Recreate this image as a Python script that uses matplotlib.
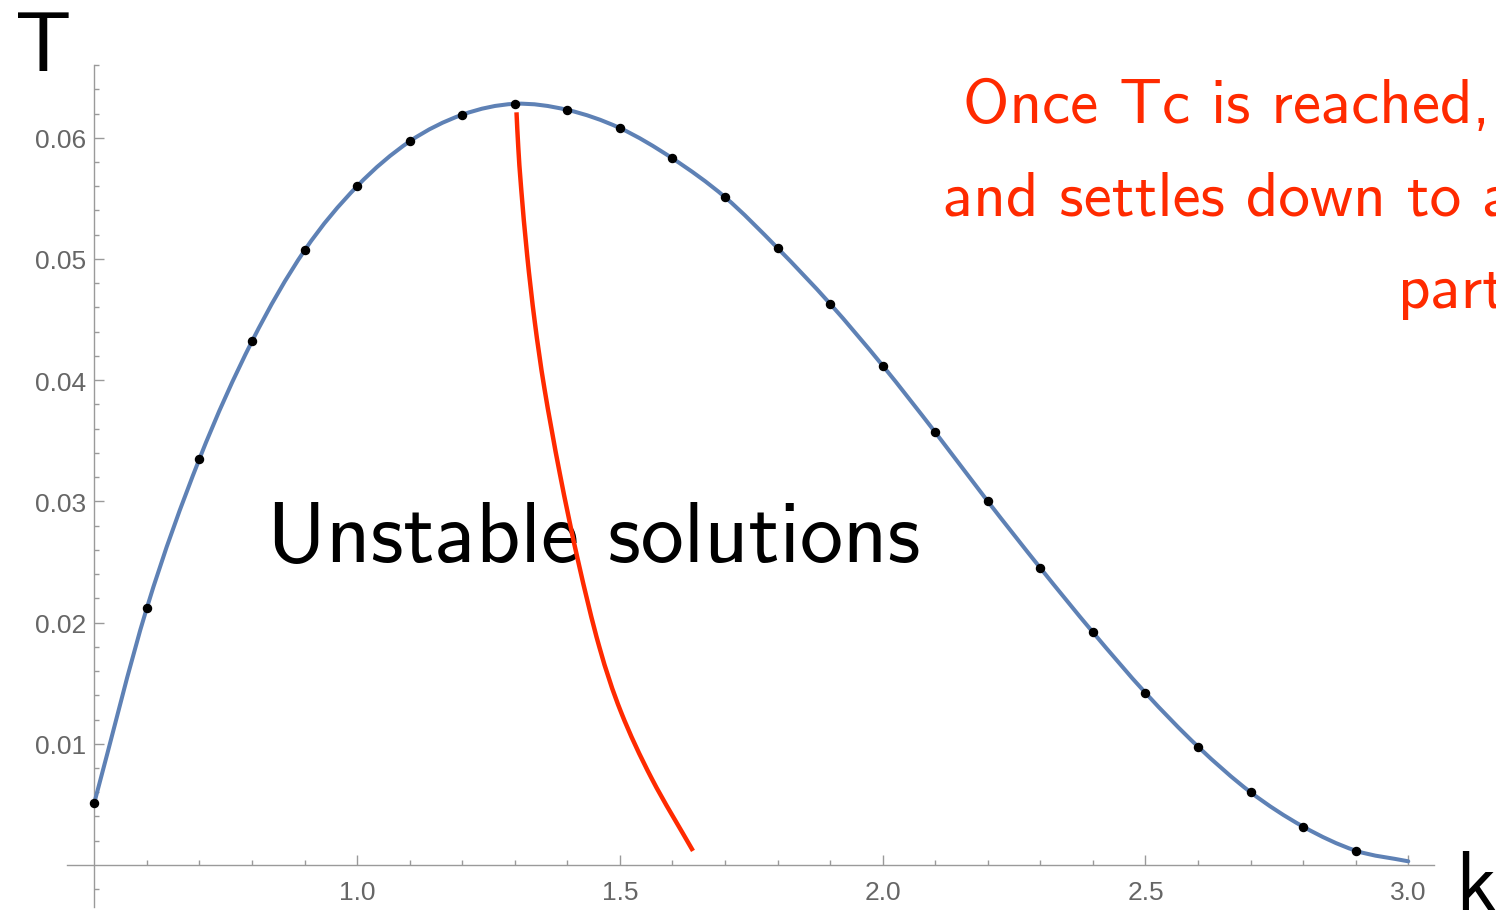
import matplotlib
matplotlib.use('Agg')
import matplotlib.pyplot as plt
from matplotlib.path import Path
from matplotlib.patches import PathPatch
from matplotlib.ticker import FixedLocator, FixedFormatter

# ---- data ----
k_pts = [0.5, 0.6, 0.7, 0.8, 0.9, 1.0, 1.1, 1.2, 1.3, 1.4, 1.5, 1.6, 1.7,
         1.8, 1.9, 2.0, 2.1, 2.2, 2.3, 2.4, 2.5, 2.6, 2.7, 2.8, 2.9]
T_pts = [0.00512, 0.0212, 0.0335, 0.0432, 0.0507, 0.0560, 0.0597, 0.0619,
         0.0628, 0.0623, 0.0608, 0.0583, 0.0551, 0.0509, 0.0463, 0.0412,
         0.0357, 0.0300, 0.0245, 0.0192, 0.0142, 0.00976, 0.0060, 0.00316,
         0.00118]
curve_k = k_pts + [3.0]
curve_T = T_pts + [0.0003]

red_k = [1.3033, 1.3067, 1.3122, 1.3236, 1.3381, 1.3565, 1.3857, 1.4209,
         1.4608, 1.5023, 1.5609, 1.6391]
red_T = [0.0621, 0.0592, 0.0558, 0.0503, 0.0448, 0.0393, 0.0323, 0.0250,
         0.0180, 0.0126, 0.0071, 0.00116]

x_major = [1.0, 1.5, 2.0, 2.5, 3.0]
x_major_labels = ['1.0', '1.5', '2.0', '2.5', '3.0']
x_minor = [0.6, 0.7, 0.8, 0.9, 1.1, 1.2, 1.3, 1.4, 1.6, 1.7, 1.8, 1.9,
           2.1, 2.2, 2.3, 2.4, 2.6, 2.7, 2.8, 2.9]
y_major = [0.01, 0.02, 0.03, 0.04, 0.05, 0.06]
y_major_labels = ['0.01', '0.02', '0.03', '0.04', '0.05', '0.06']
y_minor = [-0.002, 0.002, 0.004, 0.006, 0.008, 0.012, 0.014, 0.016, 0.018,
           0.022, 0.024, 0.026, 0.028, 0.032, 0.034, 0.036, 0.038,
           0.042, 0.044, 0.046, 0.048, 0.052, 0.054, 0.056, 0.058,
           0.062, 0.064, 0.066]

red_lines = ["Once Tc is reached,", "and settles down to a", "part"]

W, H = 1496, 912
fig = plt.figure(figsize=(W / 100, H / 100), dpi=100)
ax = fig.add_axes([0, 0, 1, 1])
ax.set_xlim(0.3206, 3.1669)
ax.set_ylim(-0.0038, 0.07145)
ax.patch.set_alpha(0)

axis_col = '#9a9a9a'
for s in ['top', 'right']:
    ax.spines[s].set_visible(False)
ax.spines['left'].set_position(('data', 0.5))
ax.spines['bottom'].set_position(('data', 0.0))
ax.spines['left'].set_bounds(-0.00347, 0.0660)
ax.spines['bottom'].set_bounds(0.4484, 3.0489)
for s in ['left', 'bottom']:
    ax.spines[s].set_color(axis_col)
    ax.spines[s].set_linewidth(1.0)

ax.xaxis.set_major_locator(FixedLocator(x_major))
ax.xaxis.set_major_formatter(FixedFormatter(x_major_labels))
ax.xaxis.set_minor_locator(FixedLocator(x_minor))
ax.yaxis.set_major_locator(FixedLocator(y_major))
ax.yaxis.set_major_formatter(FixedFormatter(y_major_labels))
ax.yaxis.set_minor_locator(FixedLocator(y_minor))

ax.tick_params(which='both', direction='in', color=axis_col, width=1.0,
               labelcolor='#666666', labelsize=19)
ax.tick_params(which='major', length=7.2)
ax.tick_params(which='minor', length=3.6)
ax.tick_params(axis='x', pad=10.8)
ax.tick_params(axis='y', pad=5.8)
for lab in ax.get_xticklabels() + ax.get_yticklabels():
    lab.set_fontfamily('Liberation Sans')


def smooth_path(xs, ys):
    """Smooth Bezier path (Catmull-Rom) through the given points."""
    pts = list(zip(xs, ys))
    n = len(pts)
    # reflected end neighbours for natural end tangents
    first = (2 * pts[0][0] - pts[1][0], 2 * pts[0][1] - pts[1][1])
    last = (2 * pts[-1][0] - pts[-2][0], 2 * pts[-1][1] - pts[-2][1])
    ext = [first] + pts + [last]
    verts = [pts[0]]
    codes = [Path.MOVETO]
    for i in range(1, n):
        p0, p1, p2, p3 = ext[i - 1], ext[i], ext[i + 1], ext[i + 2]
        c1 = (p1[0] + (p2[0] - p0[0]) / 6, p1[1] + (p2[1] - p0[1]) / 6)
        c2 = (p2[0] - (p3[0] - p1[0]) / 6, p2[1] - (p3[1] - p1[1]) / 6)
        verts += [c1, c2, p2]
        codes += [Path.CURVE4] * 3
    return Path(verts, codes)


ax.add_patch(PathPatch(smooth_path(curve_k, curve_T), fill=False,
                       edgecolor='#5E81B5', lw=2.9, zorder=3,
                       joinstyle='round', capstyle='round'))
ax.plot(k_pts, T_pts, 'o', color='black', ms=5.8, zorder=4)
ax.add_patch(PathPatch(smooth_path(red_k, red_T), fill=False,
                       edgecolor='#ff2a00', lw=3.2, zorder=5,
                       joinstyle='round', capstyle='butt'))


def ftxt(x, y, s, size, color, z=6):
    ax.text(x / W, 1 - y / H, s, transform=ax.transAxes, fontsize=size,
            color=color, family='cmss10', va='baseline', ha='left',
            zorder=z, clip_on=False)


ftxt(15, 71, 'T', 60, 'black')
ftxt(1455, 910, 'k', 60, 'black')
ftxt(267, 562, 'Unstable solutions', 62, 'black', z=2)
ftxt(963, 123, red_lines[0], 45.5, '#ff2a00')
ftxt(943, 215, red_lines[1], 45.5, '#ff2a00')
ftxt(1398, 308, red_lines[2], 45.5, '#ff2a00')

fig.savefig('out.png', dpi=100)
